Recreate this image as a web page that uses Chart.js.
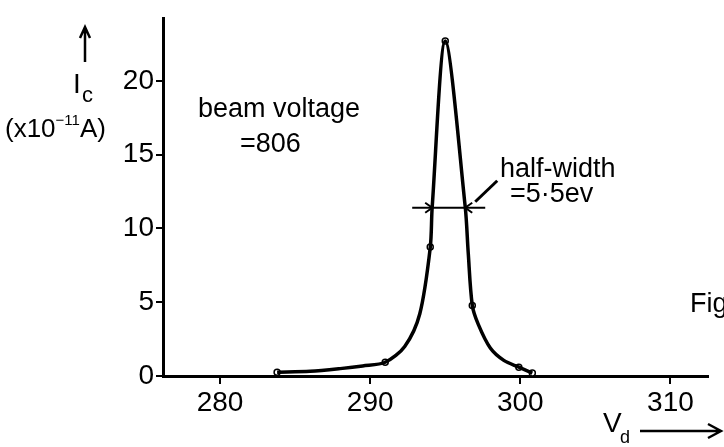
<!DOCTYPE html>
<html>
<head>
<meta charset="utf-8">
<script src="https://cdn.jsdelivr.net/npm/chart.js@4.4.1/dist/chart.umd.min.js"></script>
<style>
  html, body { margin: 0; padding: 0; background: #fff; }
  #wrap { width: 724px; height: 447px; }
</style>
</head>
<body>
<div id="wrap"><canvas id="chart" width="724" height="447"></canvas></div>
<script>
// Retarding voltage Vd (V) and collector current Ic (x10^-11 A)
const curveV = [283.8, 286.0, 288.0, 289.5, 291.0, 292.3, 293.3, 294.0, 294.13, 295.0, 296.33, 296.53, 296.8, 297.2, 298.0, 298.9, 299.9, 300.8];
const curveI = [0.26, 0.32, 0.5, 0.68, 0.93, 2.0, 4.2, 8.7, 11.46, 22.7, 11.46, 8.34, 4.8, 3.5, 1.9, 1.06, 0.6, 0.2];

// measured points (small open circles)
const pointV = [283.8, 291.0, 294.0, 295.0, 296.8, 299.9, 300.8];
const pointI = [0.26, 0.93, 8.74, 22.7, 4.77, 0.6, 0.2];

const xTicks = [280, 290, 300, 310];
const yTicks = [0, 5, 10, 15, 20];

// half-width marker
const halfMax = 11.4;
const halfLeft = 294.13;
const halfRight = 296.33;

const font = "'Liberation Sans', Arial, sans-serif";

// Draw the hand-lettered annotations
const annotations = {
  id: 'annotations',
  afterDraw(chart) {
    const ctx = chart.ctx;
    const x = chart.scales.x, y = chart.scales.y;
    ctx.save();
    ctx.fillStyle = '#000';
    ctx.strokeStyle = '#000';
    ctx.textBaseline = 'alphabetic';
    ctx.textAlign = 'left';

    ctx.font = '27px ' + font;
    ctx.fillText('beam voltage', 198, 117);
    ctx.fillText('=806', 240, 152);
    ctx.fillText('half-width', 500, 177);
    ctx.fillText('=5\u00b75ev', 510, 202);
    ctx.fillText('Fig.', 690, 312);

    // half-width arrows
    const hy = y.getPixelForValue(halfMax);
    const hl = x.getPixelForValue(halfLeft);
    const hr = x.getPixelForValue(halfRight);
    ctx.lineWidth = 2;
    ctx.beginPath();
    ctx.moveTo(hl - 20, hy); ctx.lineTo(hr + 20, hy);
    ctx.stroke();
    ctx.beginPath();
    ctx.moveTo(hl - 7, hy - 5); ctx.lineTo(hl, hy); ctx.lineTo(hl - 7, hy + 5);
    ctx.moveTo(hr + 7, hy - 5); ctx.lineTo(hr, hy); ctx.lineTo(hr + 7, hy + 5);
    ctx.stroke();
    // leader line
    ctx.lineWidth = 3;
    ctx.beginPath();
    ctx.moveTo(hr + 10, hy - 6); ctx.lineTo(hr + 32, hy - 27);
    ctx.stroke();

    // y-axis title
    ctx.lineWidth = 2.5;
    ctx.beginPath();
    ctx.moveTo(85, 62); ctx.lineTo(85, 28);
    ctx.moveTo(80, 38); ctx.lineTo(85, 27); ctx.lineTo(90, 38);
    ctx.stroke();
    ctx.font = '28px ' + font;
    ctx.fillText('I', 73, 93);
    ctx.font = '22px ' + font;
    ctx.fillText('c', 82, 102);
    ctx.font = '26px ' + font;
    ctx.fillText('(x10', 5, 137);
    let w = ctx.measureText('(x10').width;
    ctx.font = '15px ' + font;
    ctx.fillText('\u221211', 5 + w, 125);
    let w2 = ctx.measureText('\u221211').width;
    ctx.font = '26px ' + font;
    ctx.fillText('A)', 5 + w + w2, 137);

    // x-axis title
    ctx.font = '28px ' + font;
    ctx.fillText('V', 603, 432);
    ctx.font = '18px ' + font;
    ctx.fillText('d', 620, 443);
    ctx.lineWidth = 2.5;
    ctx.beginPath();
    ctx.moveTo(640, 431); ctx.lineTo(720, 431);
    ctx.moveTo(708, 424); ctx.lineTo(721, 431); ctx.lineTo(708, 438);
    ctx.stroke();
    ctx.restore();
  }
};

new Chart(document.getElementById('chart').getContext('2d'), {
  type: 'line',
  data: {
    datasets: [{
      label: 'curve',
      data: curveV.map((v, i) => ({ x: v, y: curveI[i] })),
      borderColor: '#000',
      borderWidth: 3.5,
      pointRadius: 0,
      tension: 0.3,
      fill: false
    }, {
      label: 'measured',
      data: pointV.map((v, i) => ({ x: v, y: pointI[i] })),
      showLine: false,
      pointRadius: 3,
      pointBorderWidth: 1.5,
      pointBorderColor: '#000',
      pointBackgroundColor: '#fff'
    }]
  },
  options: {
    responsive: false,
    animation: false,
    layout: { padding: { top: 10, right: 16, left: 0, bottom: 0 } },
    plugins: { legend: { display: false }, tooltip: { enabled: false } },
    scales: {
      x: {
        type: 'linear',
        min: 276.2,
        max: 312.5,
        afterFit(s) { s.height = 71; },
        afterBuildTicks(s) { s.ticks = xTicks.map(v => ({ value: v })); },
        ticks: { color: '#000', font: { family: font, size: 28 }, padding: 2, maxRotation: 0 },
        grid: { display: true, drawOnChartArea: false, drawTicks: true, tickLength: 8, color: '#000', lineWidth: 2 },
        border: { display: true, color: '#000', width: 3 }
      },
      y: {
        type: 'linear',
        min: 0,
        max: 24.2,
        afterFit(s) { s.width = 163; },
        afterBuildTicks(s) { s.ticks = yTicks.map(v => ({ value: v })); },
        ticks: { color: '#000', font: { family: font, size: 28 }, padding: 2 },
        grid: { display: true, drawOnChartArea: false, drawTicks: true, tickLength: 7, color: '#000', lineWidth: 2 },
        border: { display: true, color: '#000', width: 3 }
      }
    }
  },
  plugins: [annotations]
});
</script>
</body>
</html>
